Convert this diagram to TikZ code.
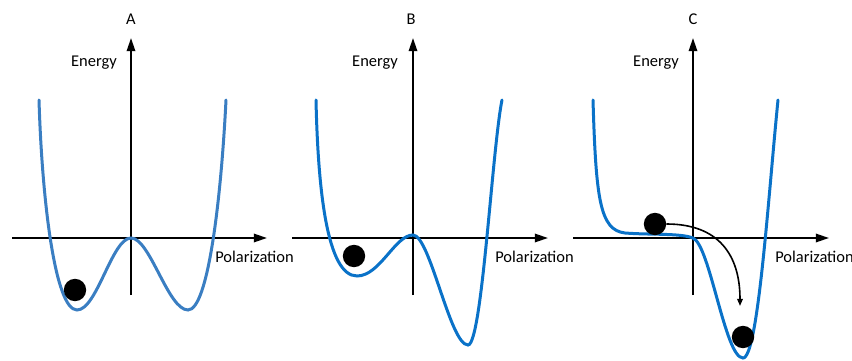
\documentclass[tikz,border=0pt]{standalone}
\usepackage{fontspec}
\setmainfont{Carlito}
\usepackage{xcolor}
\usetikzlibrary{arrows.meta,positioning,calc}
\definecolor{wellA}{HTML}{3A7EC2}
\definecolor{wellB}{HTML}{0A72C8}
\definecolor{ink}{HTML}{000000}
\tikzset{
  axisarr/.style={-{Triangle[length=3.3mm,width=2.1mm]},line width=0.5mm,color=ink},
  wellcurve/.style={line width=0.75mm,line cap=round},
  ball/.style={circle,fill=ink,minimum size=5.6mm,inner sep=0pt},
  panellabel/.style={font=\fontsize{11.7}{14}\selectfont,anchor=base,inner sep=0pt},
  axislabel/.style={font=\fontsize{11.7}{14}\selectfont,inner sep=0pt},
  movearr/.style={-{Triangle[length=1.8mm,width=1.4mm]},line width=0.4mm,color=ink}
}

\begin{document}
\begin{tikzpicture}[x=0.25mm,y=-0.25mm]
  \useasboundingbox (0,0) rectangle (852,361);
  % panel A
  \draw[axisarr] (12,238) -- (267,238);
  \draw[axisarr] (131,295) -- (131,38);
  \node[panellabel] (labA) at (131,25) {A};
  \node[axislabel,anchor=base] (enA) at (94,67) {Energy};
  \node[axislabel,anchor=base west] (polA) at (215,263) {Polarization};
  \draw[wellcurve,wellA] (39,100) .. controls (42,200) and (55,310) .. (77,310)
    .. controls (97,310) and (112,238) .. (131,238)
    .. controls (150,238) and (168,310) .. (188,310)
    .. controls (208,310) and (221,200) .. (226,100);
  \node[ball] (ballA) at (75,290) {};
  % panel B
  \draw[axisarr] (292,238) -- (548,238);
  \draw[axisarr] (413,295) -- (413,38);
  \node[panellabel] (labB) at (411,25) {B};
  \node[axislabel,anchor=base] (enB) at (375,67) {Energy};
  \node[axislabel,anchor=base west] (polB) at (495,263) {Polarization};
  \draw[wellcurve,wellB] (316,100) .. controls (318,190) and (327,276) .. (357,276)
    .. controls (380,276) and (395,235) .. (413,235)
    .. controls (430,235) and (450,345) .. (468,345)
    .. controls (482,345) and (492,150) .. (502,100);
  \node[ball] (ballB) at (354,256) {};
  % panel C
  \draw[axisarr] (573,238) -- (829,238);
  \draw[axisarr] (693,295) -- (693,38);
  \node[panellabel] (labC) at (693,25) {C};
  \node[axislabel,anchor=base] (enC) at (656,67) {Energy};
  \node[axislabel,anchor=base west] (polC) at (775,263) {Polarization};
  \draw[wellcurve,wellB] (593,100) .. controls (596,200) and (600,230) .. (625,233)
    .. controls (650,235) and (680,233) .. (693,238)
    .. controls (710,245) and (725,358) .. (743,358)
    .. controls (758,358) and (768,200) .. (778,100);
  \node[ball] (ballC) at (655,224) {};
  \node[ball] (restC) at (743,337) {};
  \coordinate (land) at (740,306);
  \draw[movearr] (ballC.east) to[out=0,in=90,looseness=1.2] (land);
\end{tikzpicture}
\end{document}
